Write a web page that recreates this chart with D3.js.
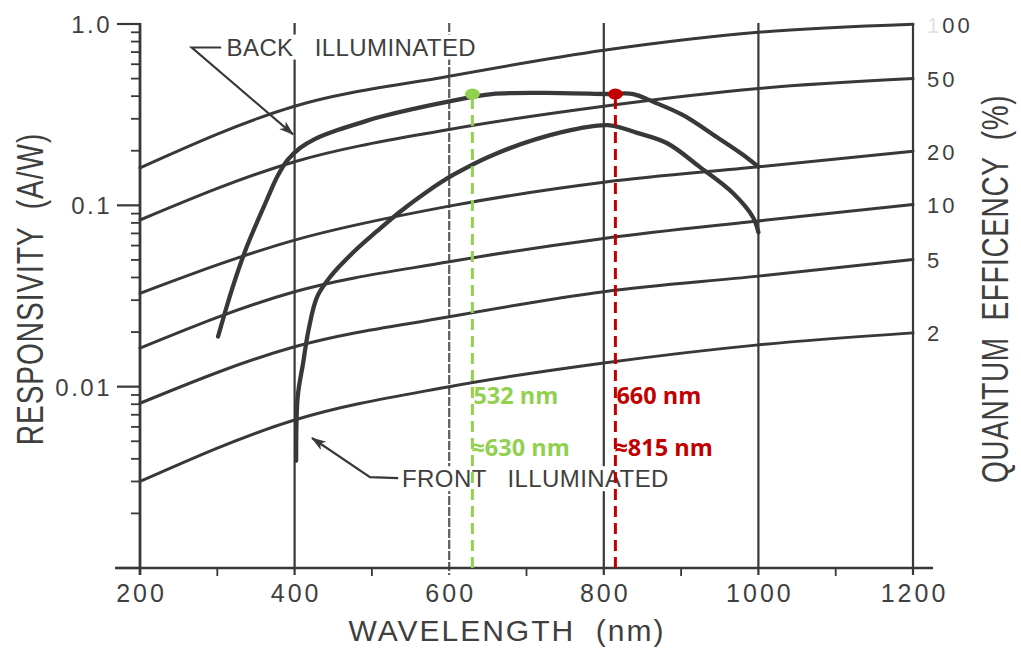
<!DOCTYPE html>
<html>
<head>
<meta charset="utf-8">
<script src="https://cdn.jsdelivr.net/npm/d3@7"></script>
<style>
  html, body { margin: 0; padding: 0; background: #fff; }
  svg { display: block; font-family: "Liberation Sans", Arial, sans-serif; }
</style>
</head>
<body>
<svg id="chart" width="1021" height="648"></svg>
<script>
// Wavelengths (nm) at which the constant quantum-efficiency curves are sampled
const wavelengths = [200, 400, 600, 800, 1000, 1200];

// Responsivity (A/W) along each constant quantum-efficiency curve
const qe100 = [0.161, 0.352, 0.515, 0.716, 0.900, 0.996];
const qe50  = [0.083, 0.174, 0.262, 0.352, 0.441, 0.500];
const qe20  = [0.0327, 0.0643, 0.099, 0.134, 0.163, 0.199];
const qe10  = [0.0163, 0.0334, 0.0488, 0.0657, 0.082, 0.101];
const qe5   = [0.0081, 0.0166, 0.0243, 0.0334, 0.0407, 0.0503];
const qe2   = [0.0030, 0.00655, 0.0100, 0.0135, 0.0170, 0.0198];
const qeLabels = ["100", "50", "20", "10", "5", "2"];

// Back-illuminated photodiode responsivity
const backWavelength = [301, 320, 338, 364, 378, 391, 407, 426, 452, 485, 510, 605, 655, 743, 805, 838, 864, 902, 946, 980, 1000];
const backResponse   = [0.0189, 0.0355, 0.0589, 0.107, 0.145, 0.178, 0.207, 0.232, 0.257, 0.285, 0.307, 0.378, 0.411, 0.416, 0.411, 0.411, 0.372, 0.315, 0.238, 0.190, 0.163];

// Front-illuminated photodiode responsivity
const frontWavelength = [402, 404, 411, 418, 429, 446, 476, 507, 536, 569, 605, 662, 747, 805, 843, 882, 924, 967, 993, 1000];
const frontResponse   = [0.0039, 0.0088, 0.0135, 0.0205, 0.0312, 0.0403, 0.0551, 0.0722, 0.0919, 0.117, 0.147, 0.194, 0.254, 0.277, 0.251, 0.220, 0.163, 0.117, 0.086, 0.071];

// Laser lines and the emission wavelengths marked on the chart
const laserLabels = ["532 nm", "660 nm"];
const markWavelength = [630, 815];
const markResponse = [0.411, 0.411];

// Axis ticks
const xTickValues = [200, 400, 600, 800, 1000, 1200];
const xMinorTicks = [300, 500, 700, 900, 1100];
const yTickValues = [1, 0.1, 0.01];
const yTickLabels = ["1.0", "0.1", "0.01"];

// ---------------------------------------------------------------------------
const ink = "#383838";
const textInk = "#3f3f3f";
const markColors = ["#92D050", "#C00000"];

const svg = d3.select("#chart");
const x = d3.scaleLinear().domain([200, 1200]).range([140, 913]);
const y = d3.scaleLog().domain([0.001, 1]).range([568, 24]);
const yTop = y(1), yBottom = y(0.001);

const defs = svg.append("defs");
defs.append("marker")
  .attr("id", "arrowHead")
  .attr("markerUnits", "userSpaceOnUse")
  .attr("markerWidth", 16).attr("markerHeight", 12)
  .attr("refX", 14).attr("refY", 6)
  .attr("orient", "auto")
  .append("path")
  .attr("d", "M0,1 L15,6 L0,11 L4,6 Z")
  .attr("fill", ink);

// Vertical grid lines and both vertical axes
const grid = svg.append("g");
xTickValues.forEach(v => {
  const light = v === 600;
  grid.append("line")
    .attr("x1", x(v)).attr("x2", x(v))
    .attr("y1", yTop - 1).attr("y2", yBottom + 7)
    .attr("stroke", light ? "#5c5c5c" : ink)
    .attr("stroke-width", v === 200 ? 2.8 : 2.2)
    .attr("stroke-dasharray", light ? "9,2" : null);
});

// Horizontal axis
grid.append("line")
  .attr("x1", x(200) - 25).attr("x2", x(1200) + 20)
  .attr("y1", yBottom).attr("y2", yBottom)
  .attr("stroke", ink).attr("stroke-width", 2.6);

xMinorTicks.forEach(v => {
  grid.append("line")
    .attr("x1", x(v)).attr("x2", x(v))
    .attr("y1", yBottom).attr("y2", yBottom + 8)
    .attr("stroke", ink).attr("stroke-width", 1.8);
});

// Logarithmic ticks on the left axis
y.ticks().forEach(v => {
  const major = Math.abs(Math.log10(v) - Math.round(Math.log10(v))) < 1e-9;
  grid.append("line")
    .attr("x1", x(200) - (major ? 23 : 9)).attr("x2", x(200))
    .attr("y1", y(v)).attr("y2", y(v))
    .attr("stroke", ink).attr("stroke-width", major ? 2.2 : 1.8);
});

// Tick labels
const tickFont = g => g.attr("fill", textInk).attr("font-size", 25).attr("letter-spacing", 3);
const xLabels = svg.append("g").call(tickFont);
xTickValues.forEach(v => {
  xLabels.append("text")
    .attr("x", x(v) + 1.5).attr("y", 602)
    .attr("text-anchor", "middle")
    .text(v);
});

const yLabels = svg.append("g").call(tickFont).attr("font-size", 24).attr("letter-spacing", 2.5);
yTickValues.forEach((v, i) => {
  yLabels.append("text")
    .attr("x", 112).attr("y", y(v) + 9)
    .attr("text-anchor", "end")
    .text(yTickLabels[i]);
});

// Constant quantum-efficiency curves
const qeSeries = [qe100, qe50, qe20, qe10, qe5, qe2];
const qeLine = d3.line()
  .x(d => x(d[0])).y(d => y(d[1]))
  .curve(d3.curveMonotoneX);
svg.append("g")
  .selectAll("path")
  .data(qeSeries)
  .join("path")
  .attr("d", s => qeLine(wavelengths.map((w, i) => [w, s[i]])))
  .attr("fill", "none")
  .attr("stroke", ink)
  .attr("stroke-width", 3)
  .attr("stroke-linecap", "round");

// Quantum-efficiency scale on the right
const qeText = svg.append("g").call(tickFont).attr("font-size", 22).attr("letter-spacing", 3);
qeSeries.forEach((s, i) => {
  const t = qeText.append("text")
    .attr("x", 927).attr("y", y(s[s.length - 1]) + 1)
    .attr("dominant-baseline", "central");
  if (i === 0) {
    t.append("tspan").attr("fill-opacity", 0.18).text(qeLabels[i].slice(0, 1));
    t.append("tspan").text(qeLabels[i].slice(1));
  } else {
    t.text(qeLabels[i]);
  }
});

// Photodiode responsivity curves
const respLine = d3.line()
  .x(d => x(d[0])).y(d => y(d[1]))
  .curve(d3.curveCatmullRom.alpha(0.5));
const curves = [
  backWavelength.map((w, i) => [w, backResponse[i]]),
  frontWavelength.map((w, i) => [w, frontResponse[i]])
];
svg.append("g")
  .selectAll("path")
  .data(curves)
  .join("path")
  .attr("d", respLine)
  .attr("fill", "none")
  .attr("stroke", ink)
  .attr("stroke-width", 4.3)
  .attr("stroke-linecap", "round")
  .attr("stroke-linejoin", "round");

// Curve labels on a white ground that interrupts the grid lines
function curveLabel(text, at) {
  const g = svg.append("g");
  const t = g.append("text")
    .attr("x", x(at[0])).attr("y", y(at[1]))
    .attr("xml:space", "preserve")
    .style("white-space", "pre")
    .attr("font-size", 24)
    .attr("letter-spacing", 0.4)
    .attr("fill", textInk)
    .text(text);
  const bb = t.node().getBBox();
  g.insert("rect", "text")
    .attr("x", bb.x - 2).attr("y", bb.y + 1)
    .attr("width", bb.width + 4).attr("height", bb.height - 2)
    .attr("fill", "#fff");
}
curveLabel("BACK   ILLUMINATED", [312, 0.67]);
curveLabel("FRONT   ILLUMINATED", [539, 0.00279]);

// Leader lines from the labels to the curves
const leader = d3.line().x(d => x(d[0])).y(d => y(d[1]));
svg.append("path")
  .attr("d", leader([[305, 0.742], [267, 0.742], [398, 0.246]]))
  .attr("fill", "none").attr("stroke", ink).attr("stroke-width", 2.2)
  .attr("marker-end", "url(#arrowHead)");
svg.append("path")
  .attr("d", leader([[534, 0.00313], [497.5, 0.00317], [422.5, 0.00521]]))
  .attr("fill", "none").attr("stroke", ink).attr("stroke-width", 2.2)
  .attr("marker-end", "url(#arrowHead)");

// Marked wavelengths: dashed drop lines, dots and labels
markWavelength.forEach((w, i) => {
  const col = markColors[i];
  const px = x(w);
  svg.append("line")
    .attr("x1", px).attr("x2", px)
    .attr("y1", y(markResponse[i]) + 4).attr("y2", yBottom)
    .attr("stroke", col).attr("stroke-width", 3)
    .attr("stroke-dasharray", "11,6");
  svg.append("ellipse")
    .attr("cx", px).attr("cy", y(markResponse[i]))
    .attr("rx", 7.5).attr("ry", 5.5)
    .attr("fill", col);
  const lab = svg.append("g")
    .attr("fill", col)
    .attr("font-family", "'Open Sans', 'Noto Sans', sans-serif")
    .attr("font-weight", 700)
    .attr("font-size", 23.5);
  lab.append("text").attr("x", px + 1).attr("y", 404).text(laserLabels[i]);
  lab.append("text").attr("x", px - 1).attr("y", 456).text("\u2248" + w + " nm");
});

// Axis titles
const titleFont = g => g.attr("fill", textInk).attr("font-size", 28)
  .attr("xml:space", "preserve").style("white-space", "pre");
svg.append("text").call(titleFont)
  .attr("transform", "translate(31,289) scale(1.3,1) rotate(-90)")
  .attr("text-anchor", "middle").attr("dominant-baseline", "central")
  .attr("letter-spacing", 1)
  .text("RESPONSIVITY  (A/W)");
svg.append("text").call(titleFont)
  .attr("transform", "translate(996,289) scale(1.3,1) rotate(-90)")
  .attr("text-anchor", "middle").attr("dominant-baseline", "central")
  .attr("letter-spacing", 0.6)
  .text("QUANTUM  EFFICENCY  (%)");
svg.append("text").call(titleFont)
  .attr("font-size", 30)
  .attr("letter-spacing", 2)
  .attr("x", 507).attr("y", 641)
  .attr("text-anchor", "middle")
  .text("WAVELENGTH  (nm)");
</script>
</body>
</html>
